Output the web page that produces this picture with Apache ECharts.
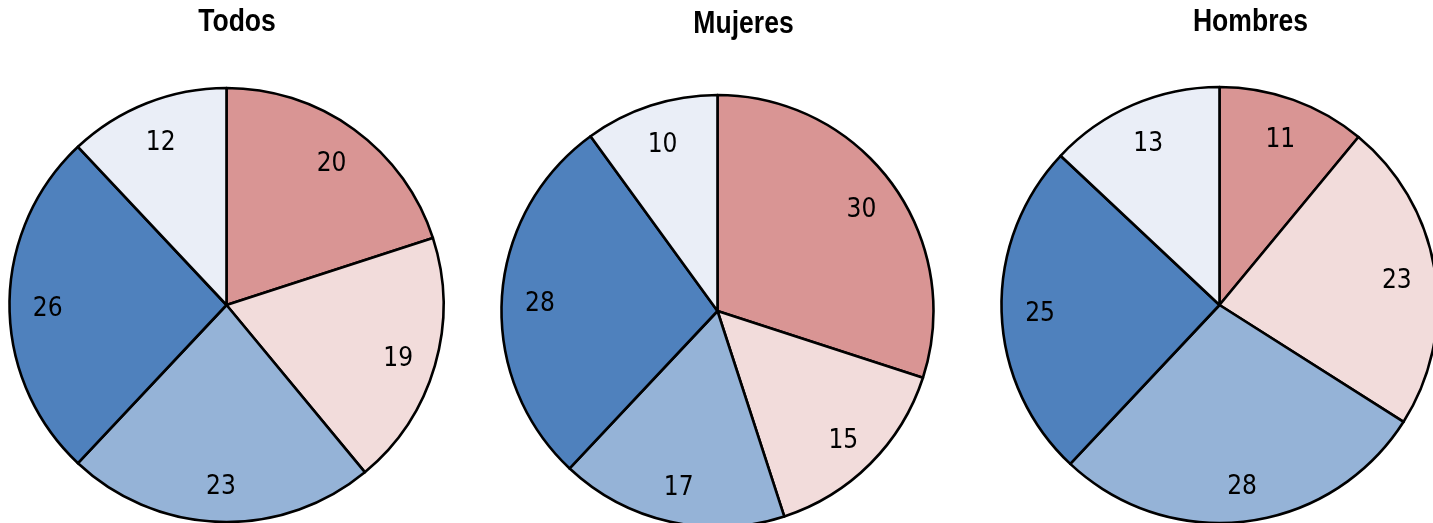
<!DOCTYPE html>
<html>
<head>
<meta charset="utf-8">
<script src="https://cdn.jsdelivr.net/npm/echarts@6/dist/echarts.min.js"></script>
<style>
html,body{margin:0;padding:0;background:#fff;}
#chart{width:1433px;height:523px;}
</style>
</head>
<body>
<div id="chart"></div>
<script>
const titles = ['Todos', 'Mujeres', 'Hombres'];
const categories = ['A', 'B', 'C', 'D', 'E'];
const todos = [20, 19, 23, 26, 12];
const mujeres = [30, 15, 17, 28, 10];
const hombres = [11, 23, 28, 25, 13];
const colors = ['#D99594', '#F2DCDB', '#95B3D7', '#4F81BD', '#EAEEF7'];

const seriesValues = [todos, mujeres, hombres];
const layout = [
  {cx: 226.5, cy: 305, r: 217, tx: 237, ty: 22},
  {cx: 717.5, cy: 311, r: 216, tx: 743.5, ty: 24.5},
  {cx: 1219.5, cy: 305, r: 218, tx: 1250.5, ty: 22}
];

const chart = echarts.init(document.getElementById('chart'), null, {renderer: 'canvas'});
const series = [];
seriesValues.forEach((vals, i) => {
  const L = layout[i];
  series.push({
    type: 'pie',
    center: [L.cx, L.cy],
    radius: [0, L.r],
    startAngle: 90,
    clockwise: true,
    silent: true,
    animation: false,
    label: {show: false},
    labelLine: {show: false},
    itemStyle: {borderColor: '#000', borderWidth: 2.6},
    data: vals.map((v, j) => ({name: categories[j], value: v, itemStyle: {color: colors[j]}}))
  });
  series.push({
    type: 'pie',
    center: [L.cx, L.cy],
    radius: [L.r * 0.62, L.r],
    startAngle: 90,
    clockwise: true,
    silent: true,
    animation: false,
    itemStyle: {color: 'rgba(0,0,0,0)', borderWidth: 0},
    label: {
      show: true,
      position: 'inside',
      formatter: '{c}',
      offset: [0, 4],
      fontFamily: "'Liberation Sans Narrow', 'DejaVu Sans Condensed', 'Liberation Sans', sans-serif",
      fontSize: 26,
      color: '#000'
    },
    labelLine: {show: false},
    data: vals.map((v, j) => ({name: categories[j], value: v}))
  });
});

chart.setOption({
  animation: false,
  backgroundColor: '#fff',
  series: series,
  graphic: layout.map((L, i) => ({
    type: 'text',
    x: L.tx,
    y: L.ty,
    scaleX: 0.83,
    style: {
      text: titles[i],
      fill: '#000',
      font: 'bold 32px "Liberation Sans", Arial, sans-serif',
      textAlign: 'center',
      textVerticalAlign: 'middle'
    }
  }))
});
</script>
</body>
</html>
